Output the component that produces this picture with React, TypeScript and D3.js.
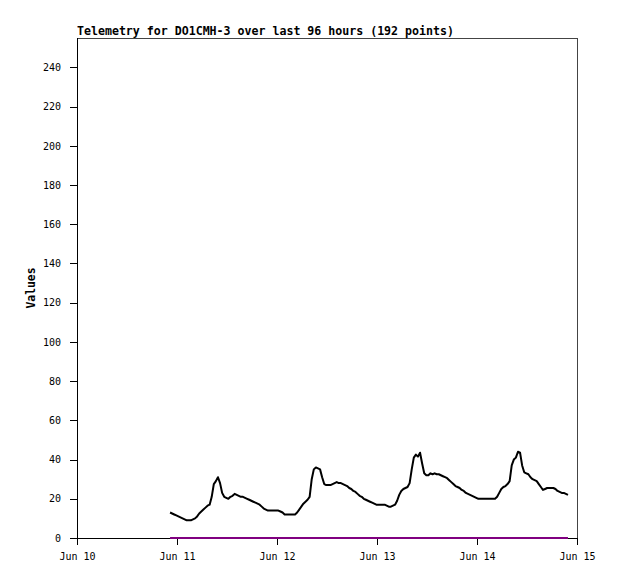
import { useEffect, useRef } from 'react';
import * as d3 from 'd3';

// 30-minute telemetry samples starting Jun 10 22:20 (UTC)
const startTime = Date.UTC(2023, 5, 10, 22, 20);
const stepMinutes = 30;

const telemetryValues = [
  13, 12.5, 12, 11.5, 11, 10.5, 10, 9.5, 9, 9, 9, 9.5,
  10, 11, 12.5, 13.5, 14.5, 15.5, 16.5, 17, 21, 27.5, 29, 31,
  28, 23, 21, 20.5, 20, 21, 21.5, 22.5, 22, 21.5, 21, 21,
  20.5, 20, 19.5, 19, 18.5, 18, 17.5, 17, 16, 15, 14.5, 14,
  14, 14, 14, 14, 14, 13.5, 13, 12, 12, 12, 12, 12,
  12, 13, 14.5, 16, 17.5, 18.5, 19.5, 21, 30, 35, 36, 35.5,
  35, 31, 27.5, 27, 27, 27, 27.5, 28, 28.5, 28, 28, 27.5,
  27, 26.5, 25.5, 25, 24, 23.5, 22.5, 21.5, 21, 20, 19.5, 19,
  18.5, 18, 17.5, 17, 17, 17, 17, 17, 16.5, 16, 16, 16.5,
  17, 19, 22, 24, 25, 25.5, 26, 28, 35, 41, 42.5, 41.5,
  43.5, 38, 33, 32, 32, 33, 32.5, 33, 32.5, 32.5, 32, 31.5,
  31, 30.5, 29.5, 28.5, 27.5, 26.5, 26, 25.5, 24.5, 24, 23, 22.5,
  22, 21.5, 21, 20.5, 20, 20, 20, 20, 20, 20, 20, 20,
  20, 21, 23, 25, 26, 26.5, 27.5, 29, 37, 40, 41, 44,
  43.5, 37, 33.5, 33, 32.5, 31, 30, 29.5, 29, 27.5, 26, 24.5,
  25, 25.5, 25.5, 25.5, 25.5, 25, 24, 23.5, 23, 23, 22.5, 22,
];

// second channel, flat at zero over the same samples
const zeroValues = telemetryValues.map(() => 0);

const yTicks = [0, 20, 40, 60, 80, 100, 120, 140, 160, 180, 200, 220, 240];
const xDomain = [new Date(Date.UTC(2023, 5, 10)), new Date(Date.UTC(2023, 5, 15))];

const title = 'Telemetry for DO1CMH-3 over last 96 hours (192 points)';
const yLabel = 'Values';

export default function App() {
  const svgRef = useRef<SVGSVGElement>(null);
  const width = 618;
  const height = 579;

  useEffect(() => {
    if (!svgRef.current) return;
    const svg = d3.select(svgRef.current);
    svg.selectAll('*').remove();

    const margin = { top: 38, right: 41, bottom: 41, left: 77 };
    const innerWidth = width - margin.left - margin.right;
    const innerHeight = height - margin.top - margin.bottom;
    const mono = '"DejaVu Sans Mono", monospace';

    svg.append('rect').attr('width', width).attr('height', height).attr('fill', '#fff');

    const g = svg.append('g').attr('transform', `translate(${margin.left},${margin.top})`);

    const x = d3.scaleUtc().domain(xDomain).range([0, innerWidth]);
    const y = d3.scaleLinear().domain([0, 255]).range([innerHeight, 0]);

    const times = telemetryValues.map((_, i) => new Date(startTime + i * stepMinutes * 60000));

    // frame (top and right)
    g.append('path')
      .attr('d', `M0.5,0.5H${innerWidth + 0.5}V${innerHeight}`)
      .attr('fill', 'none')
      .attr('stroke', '#444')
      .attr('shape-rendering', 'crispEdges');

    // y axis
    const yAxis = g.append('g')
      .call(d3.axisLeft(y).tickValues(yTicks).tickSize(7).tickPadding(9).tickSizeOuter(0));
    yAxis.select('.domain').attr('stroke', '#000').attr('d', `M0.5,${innerHeight}V0`);
    yAxis.selectAll('.tick line').attr('stroke', '#000').attr('shape-rendering', 'crispEdges');
    yAxis.selectAll('text')
      .attr('fill', '#000')
      .style('font-family', mono)
      .style('font-size', '10px');

    // x axis
    const xAxis = g.append('g')
      .attr('transform', `translate(0,${innerHeight})`)
      .call(d3.axisBottom(x).ticks(d3.utcDay.every(1)).tickFormat(d3.utcFormat('%b %d') as any).tickSize(7).tickPadding(8).tickSizeOuter(0));
    xAxis.select('.domain').attr('stroke', '#000').attr('shape-rendering', 'crispEdges');
    xAxis.selectAll('.tick line').attr('stroke', '#000').attr('shape-rendering', 'crispEdges');
    xAxis.selectAll('text')
      .attr('fill', '#000')
      .style('font-family', mono)
      .style('font-size', '10px');

    const line = d3.line<number>()
      .x((_, i) => x(times[i]))
      .y(d => y(d));

    g.append('path')
      .datum(telemetryValues)
      .attr('d', line)
      .attr('fill', 'none')
      .attr('stroke', '#000')
      .attr('stroke-width', 2)
      .attr('stroke-linejoin', 'round');

    g.append('path')
      .datum(zeroValues)
      .attr('d', line)
      .attr('fill', 'none')
      .attr('stroke', '#800080')
      .attr('stroke-width', 2);

    // title
    svg.append('text')
      .attr('x', margin.left)
      .attr('y', 35)
      .attr('fill', '#000')
      .style('font-family', mono)
      .style('font-size', '11.6px')
      .style('font-weight', 'bold')
      .text(title);

    // y label
    svg.append('text')
      .attr('transform', `translate(35,288) rotate(-90)`)
      .attr('text-anchor', 'middle')
      .attr('fill', '#000')
      .style('font-family', mono)
      .style('font-size', '11.4px')
      .style('font-weight', 'bold')
      .text(yLabel);
  }, []);

  return (
    <svg
      ref={svgRef}
      width={width}
      height={height}
      style={{ position: 'absolute', left: 0, top: 0, display: 'block' }}
    />
  );
}
